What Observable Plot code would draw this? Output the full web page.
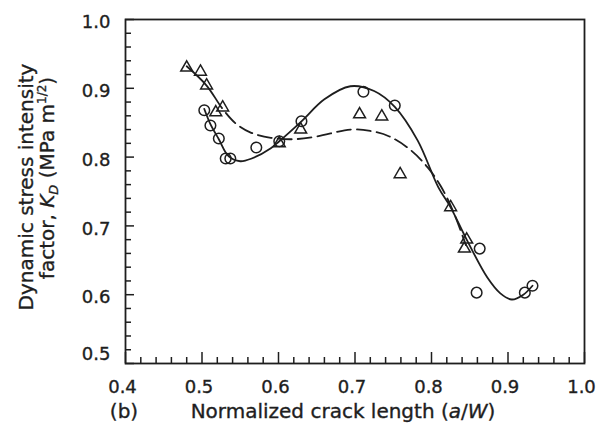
<!DOCTYPE html>
<html>
<head>
<meta charset="utf-8">
<script src="https://cdn.jsdelivr.net/npm/d3@7"></script>
<script src="https://cdn.jsdelivr.net/npm/@observablehq/plot@0.6"></script>
<style>
  html, body { margin: 0; padding: 0; background: #fff; }
  #chart svg { display: block; }
  #chart svg text { stroke: #1e1e1e; stroke-width: 0.35px; }
</style>
</head>
<body>
<div id="chart"></div>
<script>
// Measured K_D values (open circles)
const circleX = [0.503, 0.511, 0.522, 0.531, 0.537, 0.571, 0.601, 0.630, 0.711, 0.752, 0.859, 0.863, 0.922, 0.932];
const circleY = [0.868, 0.846, 0.827, 0.798, 0.798, 0.814, 0.823, 0.852, 0.895, 0.875, 0.603, 0.667, 0.603, 0.613];

// Measured K_D values (open triangles)
const triX = [0.480, 0.498, 0.506, 0.527, 0.518, 0.601, 0.629, 0.706, 0.735, 0.759, 0.825, 0.846, 0.843];
const triY = [0.930, 0.924, 0.904, 0.872, 0.865, 0.820, 0.840, 0.862, 0.859, 0.775, 0.727, 0.680, 0.667];

// Fitted trend through the circles (solid)
const solidX = [0.503, 0.511, 0.522, 0.535, 0.550, 0.565, 0.590, 0.601, 0.630, 0.660, 0.694, 0.725, 0.752, 0.782, 0.809, 0.825, 0.846, 0.873, 0.890, 0.905, 0.920, 0.932];
const solidY = [0.870, 0.848, 0.826, 0.801, 0.794, 0.798, 0.813, 0.823, 0.852, 0.884, 0.903, 0.896, 0.873, 0.824, 0.756, 0.727, 0.680, 0.625, 0.602, 0.593, 0.600, 0.613];

// Fitted trend through the triangles (dashed)
const dashX = [0.480, 0.506, 0.527, 0.545, 0.563, 0.590, 0.620, 0.650, 0.694, 0.720, 0.745, 0.773, 0.795, 0.812, 0.828, 0.845];
const dashY = [0.932, 0.904, 0.870, 0.848, 0.836, 0.828, 0.826, 0.830, 0.840, 0.838, 0.830, 0.810, 0.785, 0.758, 0.722, 0.672];

// Axis ticks
const xTicks = [0.4, 0.5, 0.6, 0.7, 0.8, 0.9, 1.0];
const yTicks = [0.5, 0.6, 0.7, 0.8, 0.9, 1.0];
const xMinor = d3.range(21, 50).map(i => i / 50).filter(v => Math.round(v * 50) % 5 !== 0);
const yMinor = d3.range(26, 50).map(i => i / 50).filter(v => Math.round(v * 50) % 5 !== 0);

const ink = "#1e1e1e";
const pts = (xs, ys) => xs.map((x, i) => ({x, y: ys[i]}));
const dash = "55,6," + Array(40).fill("14,6").join(",");

const chart = Plot.plot({
  width: 610,
  height: 434,
  marginLeft: 125,
  marginRight: 26,
  marginTop: 19,
  marginBottom: 71,
  style: {fontFamily: "DejaVu Sans", fontSize: "18px", background: "#fff", color: ink},
  x: {domain: [0.4, 1.0], axis: null},
  y: {domain: [0.5, 1.0], axis: null},
  marks: [
    // inward ticks on the bottom axis
    Plot.ruleX(xMinor, {x: d => d, y1: 0.5, y2: 0.5, insetTop: -6, stroke: ink, strokeWidth: 1.5}),
    Plot.ruleX(xTicks, {x: d => d, y1: 0.5, y2: 0.5, insetTop: -11, stroke: ink, strokeWidth: 1.5}),
    // inward ticks on the left axis
    Plot.ruleY(yMinor, {y: d => d, x1: 0.4, x2: 0.4, insetRight: -6, stroke: ink, strokeWidth: 1.5}),
    Plot.ruleY(yTicks, {y: d => d, x1: 0.4, x2: 0.4, insetRight: -9, stroke: ink, strokeWidth: 1.5}),
    Plot.frame({stroke: ink, strokeWidth: 1.8}),
    // tick labels
    Plot.text(xTicks, {x: d => d, y: 0.5, dy: 24, dx: -3, text: d => d.toFixed(1), fontSize: 18, fill: ink}),
    Plot.text(yTicks.filter(v => v > 0.5), {x: 0.4, y: d => d, dx: -15, dy: 3, textAnchor: "end", text: d => d.toFixed(1), fontSize: 18, fill: ink}),
    Plot.text([0.5], {x: 0.4, y: d => d, dx: -15, dy: -9, textAnchor: "end", text: d => d.toFixed(1), fontSize: 18, fill: ink}),
    // trend curves
    Plot.line(pts(solidX, solidY), {x: "x", y: "y", curve: "catmull-rom", stroke: ink, strokeWidth: 1.8}),
    Plot.line(pts(dashX, dashY), {x: "x", y: "y", curve: "catmull-rom", stroke: ink, strokeWidth: 1.8, strokeDasharray: dash}),
    // data points
    Plot.dot(pts(circleX, circleY), {x: "x", y: "y", r: 5.3, symbol: "circle", stroke: ink, strokeWidth: 1.5, fill: "none"}),
    Plot.dot(pts(triX, triY), {x: "x", y: "y", r: 4.4, symbol: "triangle", stroke: ink, strokeWidth: 1.5, fill: "none"})
  ]
});

document.getElementById("chart").appendChild(chart);

// Axis titles with italic / sub / superscript parts
const svg = d3.select(chart);
const title = svg.append("g").attr("fill", ink).attr("font-family", "DejaVu Sans").attr("font-size", 20);

title.append("text").attr("x", 124).attr("y", 418).attr("text-anchor", "middle").text("(b)");

const xl = title.append("text").attr("x", 343).attr("y", 418).attr("text-anchor", "middle");
xl.append("tspan").text("Normalized crack length (");
xl.append("tspan").attr("font-style", "italic").text("a");
xl.append("tspan").text("/");
xl.append("tspan").attr("font-style", "italic").text("W");
xl.append("tspan").text(")");

title.append("text")
  .attr("transform", "translate(33,187) rotate(-90)")
  .attr("text-anchor", "middle")
  .text("Dynamic stress intensity");

const yl = title.append("text")
  .attr("transform", "translate(54,178) rotate(-90)")
  .attr("text-anchor", "middle");
yl.append("tspan").text("factor, ");
yl.append("tspan").attr("font-style", "italic").text("K");
yl.append("tspan").attr("font-style", "italic").attr("font-size", 13).attr("dy", 4).text("D");
yl.append("tspan").attr("dy", -4).text(" (MPa m");
yl.append("tspan").attr("font-size", 12).attr("dy", -8).text("1/2");
yl.append("tspan").attr("dy", 8).text(")");
</script>
</body>
</html>
